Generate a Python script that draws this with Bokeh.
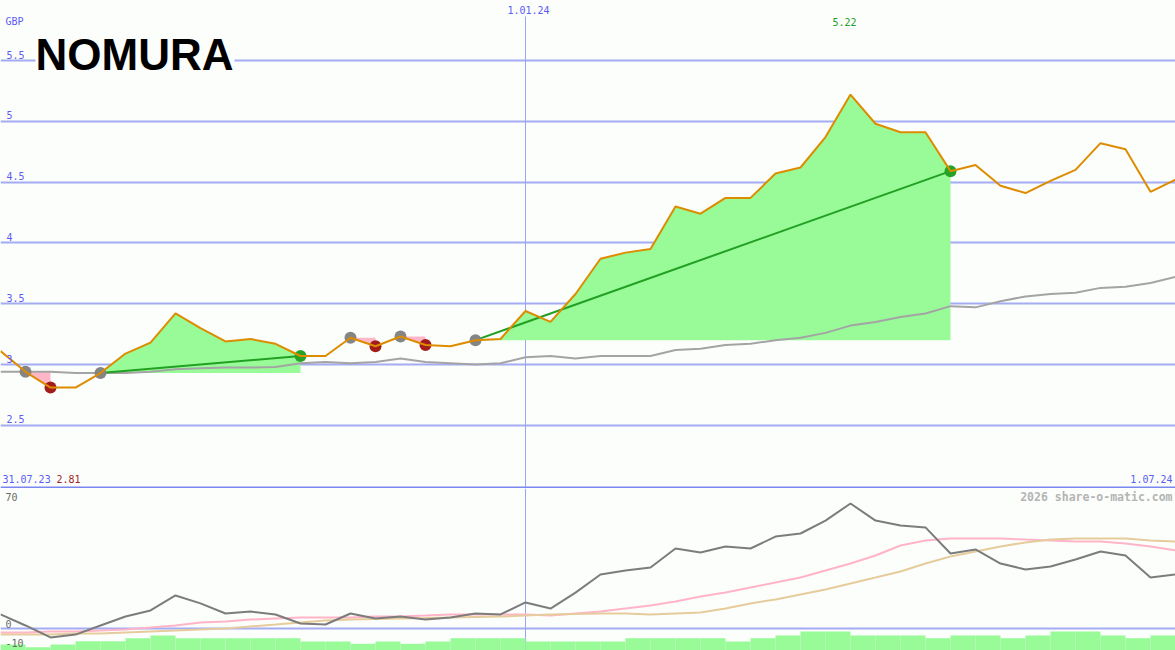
from bokeh.plotting import figure
from bokeh.layouts import column
from bokeh.models import Range1d, FixedTicker, Label
from bokeh.core.properties import value
from bokeh.embed import file_html
from bokeh.resources import INLINE

# ---------------- data ----------------
weeks = list(range(48))
price = [3.11, 2.94, 2.81, 2.81, 2.93, 3.09, 3.18, 3.42, 3.30, 3.19, 3.21, 3.17,
         3.07, 3.07, 3.22, 3.15, 3.23, 3.16, 3.15, 3.20, 3.21, 3.44, 3.35, 3.58,
         3.87, 3.92, 3.95, 4.30, 4.24, 4.37, 4.37, 4.57, 4.62, 4.87, 5.22, 4.98,
         4.91, 4.91, 4.59, 4.64, 4.47, 4.41, 4.51, 4.60, 4.82, 4.77, 4.42, 4.52]
avg = [2.94, 2.94, 2.94, 2.93, 2.93, 2.93, 2.94, 2.96, 2.97, 2.975, 2.975, 2.98,
       3.01, 3.02, 3.01, 3.02, 3.05, 3.02, 3.01, 3.00, 3.01, 3.06, 3.07, 3.05,
       3.07, 3.07, 3.07, 3.12, 3.13, 3.16, 3.17, 3.20, 3.22, 3.26, 3.32, 3.35,
       3.39, 3.42, 3.48, 3.47, 3.52, 3.56, 3.58, 3.59, 3.63, 3.64, 3.67, 3.72]
trades = [(1, 2), (4, 12), (14, 15), (16, 17), (19, 38)]   # (entry week, exit week)

momentum = [7.4, 1.6, -4.7, -3.2, 1.6, 6.3, 9.5, 17.4, 13.2, 7.9, 8.9, 7.4,
            2.6, 2.1, 7.9, 5.3, 6.3, 4.7, 5.8, 7.9, 7.4, 13.7, 10.5, 18.9,
            28.4, 30.5, 32.1, 42.1, 40.0, 43.2, 42.1, 48.4, 50.0, 56.8, 65.8, 56.8,
            54.2, 53.2, 39.5, 41.6, 34.2, 31.1, 32.6, 36.3, 40.5, 38.4, 26.8, 28.4]
signal_fast = [-2.1, -2.1, -1.6, -1.6, -1.1, -0.5, 0.5, 1.6, 3.2, 3.7, 4.7, 5.3,
               5.8, 5.8, 5.8, 6.3, 6.3, 6.8, 7.4, 7.4, 7.4, 7.4, 6.8, 7.9,
               8.9, 10.5, 12.1, 14.2, 16.8, 18.9, 21.6, 24.2, 26.8, 30.5, 34.2, 38.4,
               43.7, 46.3, 47.4, 47.4, 47.4, 46.8, 46.3, 45.8, 45.8, 44.7, 43.2, 41.1]
signal_slow = [-3.2, -3.2, -3.2, -2.6, -2.6, -2.1, -1.6, -1.1, -0.5, 0.0, 1.1, 2.1,
               3.2, 4.2, 4.7, 5.0, 5.3, 5.5, 5.8, 6.1, 6.3, 6.8, 7.4, 7.6,
               7.9, 7.9, 7.4, 7.9, 8.4, 10.5, 13.2, 15.3, 17.9, 20.5, 23.7, 26.8,
               30.0, 34.2, 37.9, 40.5, 43.2, 45.3, 46.8, 47.4, 47.4, 47.4, 46.3, 45.8]
volume = [6, 3.3, 6, 9.3, 9.3, 12.3, 15, 12.3, 12.3, 12.3, 12.3, 12.3,
          9, 9, 6.7, 9, 6.7, 9, 12.3, 12.3, 12.3, 9, 9, 9,
          9, 12.3, 12.3, 12.3, 12.3, 9, 12.3, 15, 19, 19, 15, 15,
          15, 12.3, 15, 15, 12.3, 15, 19, 19, 15, 12.3, 15]

upper_ticks = [2.5, 3.0, 3.5, 4.0, 4.5, 5.0, 5.5]
upper_tick_labels = ["2.5", "3", "3.5", "4", "4.5", "5", "5.5"]
lower_ticks = [70, 0, -10]
lower_tick_labels = ["70", "0", "-10"]
date_labels = ["31.07.23", "1.01.24", "1.07.24"]
date_label_week = [0, 21, 47]
currency = "GBP"

# ---------------- style ----------------
BG = "#fcfefc"
GRID = "#a4acf4"
BLUE_TXT = "#5b5bf5"
MONO = "DejaVu Sans Mono"

W = 1175
H1, H2 = 488, 162
PX_PER_WEEK = W / (len(weeks) - 1)
Y_PX = 121.6
Y_TOP = 3 + 364 / Y_PX
Y_BOT = Y_TOP - H1 / Y_PX
L_PX = 1.9
L_TOP = 140 / L_PX
L_BOT = -(H2 - 140) / L_PX


def ux(px):
    return px / PX_PER_WEEK


def uy(py):
    return Y_TOP - py / Y_PX


def ly(py):
    return L_TOP - py / L_PX


def make_fig(h, yr):
    f = figure(width=W, height=h, x_range=Range1d(0, len(weeks) - 1), y_range=yr,
               output_backend="svg", toolbar_location=None, min_border=0,
               background_fill_color=BG, border_fill_color=BG, outline_line_color=None)
    f.axis.visible = False
    f.xgrid.visible = False
    return f


# ---------------- upper panel ----------------
p1 = make_fig(H1, Range1d(Y_BOT, Y_TOP))
p1.ygrid.ticker = FixedTicker(ticks=upper_ticks)
p1.ygrid.grid_line_color = GRID
p1.ygrid.grid_line_width = 2

# logo backdrop (hides the grid line behind the logo)
p1.quad(left=[ux(35)], right=[ux(234)], top=[uy(34)], bottom=[uy(74)],
        fill_color=BG, line_color=None)

# vertical date line (year change)
p1.segment(x0=[date_label_week[1]], x1=[date_label_week[1]], y0=[uy(16)], y1=[Y_BOT],
           line_color="#9aa4f4", line_width=1)

for (a, b) in trades:
    xs = weeks[a:b + 1]
    ys = price[a:b + 1]
    base = [price[a]] * len(xs)
    col = "#98fb98" if price[b] > price[a] else "#ffb6c8"
    p1.varea(x=xs, y1=base, y2=ys, fill_color=col, fill_alpha=1.0)

p1.line(weeks, avg, line_color="#a4a4a4", line_width=2)

for (a, b) in trades:
    if price[b] > price[a]:
        p1.line([weeks[a], weeks[b]], [price[a], price[b]], line_color="#22a022", line_width=2)

entry_x = [weeks[a] for a, b in trades]
entry_y = [price[a] for a, b in trades]
p1.scatter(entry_x, entry_y, size=12, fill_color="#858585", line_color=None)
win_x = [weeks[b] for a, b in trades if price[b] > price[a]]
win_y = [price[b] for a, b in trades if price[b] > price[a]]
loss_x = [weeks[b] for a, b in trades if price[b] <= price[a]]
loss_y = [price[b] for a, b in trades if price[b] <= price[a]]
p1.scatter(win_x, win_y, size=12, fill_color="#26a326", line_color=None)
p1.scatter(loss_x, loss_y, size=12, fill_color="#a31c1c", line_color=None)

p1.line(weeks, price, line_color="#dd8c00", line_width=2)

# separator
p1.line([0, len(weeks) - 1], [uy(487), uy(487)], line_color="#7b86f0", line_width=2)

# tick labels
p1.text(x=[0] * len(upper_ticks), y=upper_ticks, text=upper_tick_labels,
        x_offset=6, y_offset=-2, text_font=value(MONO), text_font_size="10px",
        text_color=BLUE_TXT, text_baseline="bottom", text_align="left")

p1.add_layout(Label(x=ux(5), y=uy(21), text=currency, text_font=MONO, text_font_size="10px",
                    text_color=BLUE_TXT, text_baseline="middle", text_align="left"))
p1.add_layout(Label(x=date_label_week[1], y=uy(9), text=date_labels[1], text_font=MONO,
                    text_font_size="10px", text_color=BLUE_TXT, text_baseline="middle",
                    text_align="center", x_offset=3))
p1.add_layout(Label(x=ux(2), y=uy(478), text=date_labels[0], text_font=MONO,
                    text_font_size="10px", text_color=BLUE_TXT, text_baseline="middle",
                    text_align="left"))
p1.add_layout(Label(x=ux(1172), y=uy(478), text=date_labels[2], text_font=MONO,
                    text_font_size="10px", text_color=BLUE_TXT, text_baseline="middle",
                    text_align="right"))

imax = price.index(max(price))
imin = price.index(min(price))
p1.add_layout(Label(x=imax, y=uy(21), text="%.2f" % price[imax], text_font=MONO,
                    text_font_size="10px", text_color="#22a022", text_baseline="middle",
                    text_align="center", x_offset=-6))
p1.add_layout(Label(x=ux(56), y=uy(478), text="%.2f" % price[imin], text_font=MONO,
                    text_font_size="10px", text_color="#a31c1c", text_baseline="middle",
                    text_align="left"))

p1.add_layout(Label(x=ux(35), y=uy(54), text="NOMURA", text_font="Liberation Sans",
                    text_font_style="bold", text_font_size="44px", text_color="#000000",
                    text_baseline="alphabetic", text_align="left"))

# ---------------- lower panel ----------------
p2 = make_fig(H2, Range1d(L_BOT, L_TOP))
p2.ygrid.ticker = FixedTicker(ticks=[0])
p2.ygrid.grid_line_color = GRID
p2.ygrid.grid_line_width = 2
p2.extra_y_ranges = {"vol": Range1d(0, H2)}

p2.segment(x0=[date_label_week[1]], x1=[date_label_week[1]], y0=[L_TOP], y1=[L_BOT],
           line_color="#9aa4f4", line_width=1)
p2.line(weeks, signal_fast, line_color="#ffb4c8", line_width=2)
p2.line(weeks, signal_slow, line_color="#e6cc9c", line_width=2)
p2.line(weeks, momentum, line_color="#7c7c7c", line_width=2)
p2.vbar(x=[w + 0.5 for w in weeks[:-1]], width=1, bottom=0, top=volume,
        fill_color="#98fb98", line_color=None, y_range_name="vol")

p2.text(x=[0] * 3, y=[ly(8), ly(135), ly(154)], text=lower_tick_labels, x_offset=5,
        text_font=value(MONO), text_font_size="10px", text_color="#6a6a6a",
        text_baseline="middle", text_align="left")
p2.add_layout(Label(x=ux(1172), y=ly(8), text="2026 share-o-matic.com", text_font=MONO,
                    text_font_size="11.5px", text_font_style="bold", text_color="#b4b4b4",
                    text_baseline="middle", text_align="right"))

layout = column(p1, p2, spacing=0)
open("out.html", "w").write(file_html(layout, INLINE))
